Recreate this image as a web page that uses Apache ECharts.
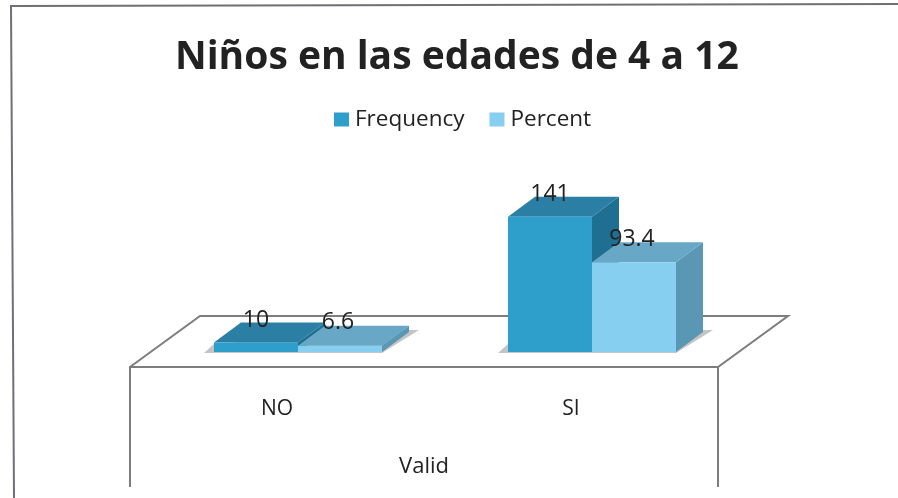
<!DOCTYPE html>
<html>
<head>
<meta charset="utf-8">
<title>Niños en las edades de 4 a 12</title>
<script src="https://cdn.jsdelivr.net/npm/echarts@6/dist/echarts.min.js"></script>
<style>
  html, body { margin: 0; padding: 0; background: #fff; }
  #main { width: 898px; height: 498px; }
</style>
</head>
<body>
<div id="main"></div>
<script>
var categories = ['NO', 'SI'];
var frequency = [10, 141];
var percent = [6.6, 93.4];

// look of the fake 3d bars
var barW = 84, depthX = 27, depthY = 20;
var freqColors = { front: '#2e9fcb', top: '#2b7fa4', side: '#1f6f92' };
var pctColors = { front: '#87cff0', top: '#68a7c5', side: '#5a97b4' };
var lineColor = '#7d7d7d';
var textColor = '#222';

function poly(points, fill) {
  return { type: 'polygon', shape: { points: points }, style: { fill: fill } };
}

function barItem(colors, slot) {
  return function (params, api) {
    var base = api.coord([api.value(0), 0]);
    var top = api.coord([api.value(0), api.value(1)]);
    var x0 = base[0] - 63 + slot * barW, x1 = x0 + barW;
    var y0 = base[1], y1 = top[1];
    return {
      type: 'group',
      children: [
        poly([[x1, y1], [x1 + depthX, y1 - depthY], [x1 + depthX, y0 - depthY], [x1, y0]], colors.side),
        poly([[x0, y1], [x0 + depthX, y1 - depthY], [x1 + depthX, y1 - depthY], [x1, y1]], colors.top),
        poly([[x0, y1], [x1, y1], [x1, y0], [x0, y0]], colors.front),
        {
          type: 'text',
          z2: 10,
          style: {
            x: (x0 + x1) / 2 - slot * 2, y: y1 - 22 - slot, text: String(api.value(1)),
            fill: textColor, font: '23px "Open Sans"', align: 'center', verticalAlign: 'middle'
          }
        }
      ]
    };
  };
}

// grey shadow under each pair of bars
function shadowItem(params, api) {
  var base = api.coord([api.value(0), 0]);
  var x0 = base[0] - 63, x1 = x0 + 2 * barW, y0 = base[1] + 1;
  return poly([[x0 - 10, y0], [x1, y0], [x1 + 37, y0 - 23], [x1 + 27, y0 - 23], [x0, y0 - 9]], '#c4c4c4');
}

// floor of the chart and the two lines going down from it
function floorItem(params, api) {
  if (params.dataIndex !== 0) return null;
  var c = params.coordSys;
  var l = c.x, r = c.x + c.width, f = c.y + c.height + 15, b = f - 51, d = 70, end = 487;
  return {
    type: 'polyline',
    shape: { points: [[l, end], [l, f], [r, f], [r + d, b], [l + d, b], [l, f]] },
    style: { fill: null, stroke: lineColor, lineWidth: 2 }
  };
}

function riser(params, api) {
  if (params.dataIndex !== 0) return null;
  var c = params.coordSys;
  var r = c.x + c.width, f = c.y + c.height + 15;
  return {
    type: 'line',
    shape: { x1: r, y1: f, x2: r, y2: 487 },
    style: { stroke: lineColor, lineWidth: 2 }
  };
}

var myChart = echarts.init(document.getElementById('main'), null, { renderer: 'canvas' });
myChart.setOption({
  animation: false,
  backgroundColor: '#fff',
  title: {
    text: 'Niños en las edades de 4 a 12',
    left: 170, top: 33,
    textStyle: { fontFamily: 'Open Sans', fontWeight: 'bold', fontSize: 39, color: textColor }
  },
  legend: {
    data: ['Frequency', 'Percent'],
    left: 329, top: 103,
    icon: 'rect', itemWidth: 15, itemHeight: 14, itemGap: 25,
    textStyle: { fontFamily: 'Open Sans', fontSize: 22.5, color: textColor, padding: [0, 0, 0, 1] }
  },
  graphic: [{
    type: 'polyline',
    silent: true,
    shape: { points: [[14, 498], [11, 6], [898, 4]] },
    style: { fill: null, stroke: '#6f6f78', lineWidth: 2 }
  }],
  grid: { left: 130, right: 180, top: 208, bottom: 146 },
  xAxis: {
    type: 'category',
    data: categories,
    axisLine: { show: false },
    axisTick: { show: false },
    axisLabel: { margin: 47, fontFamily: 'Open Sans', fontSize: 21, color: textColor },
    name: 'Valid',
    nameLocation: 'middle',
    nameGap: 104,
    nameTextStyle: { fontFamily: 'Open Sans', fontSize: 22, color: textColor }
  },
  yAxis: { type: 'value', min: 0, max: 150, show: false },
  series: [
    { type: 'custom', silent: true, renderItem: floorItem, data: categories.map(function (c, i) { return [i, 0]; }), z: 1 },
    { type: 'custom', silent: true, renderItem: riser, data: categories.map(function (c, i) { return [i, 0]; }), z: 1 },
    { type: 'custom', silent: true, renderItem: shadowItem, data: categories.map(function (c, i) { return [i, 0]; }), z: 2 },
    {
      name: 'Frequency', type: 'custom', renderItem: barItem(freqColors, 0), z: 3,
      itemStyle: { color: freqColors.front },
      data: frequency.map(function (v, i) { return [i, v]; })
    },
    {
      name: 'Percent', type: 'custom', renderItem: barItem(pctColors, 1), z: 4,
      itemStyle: { color: pctColors.front },
      data: percent.map(function (v, i) { return [i, v]; })
    }
  ]
});
</script>
</body>
</html>
